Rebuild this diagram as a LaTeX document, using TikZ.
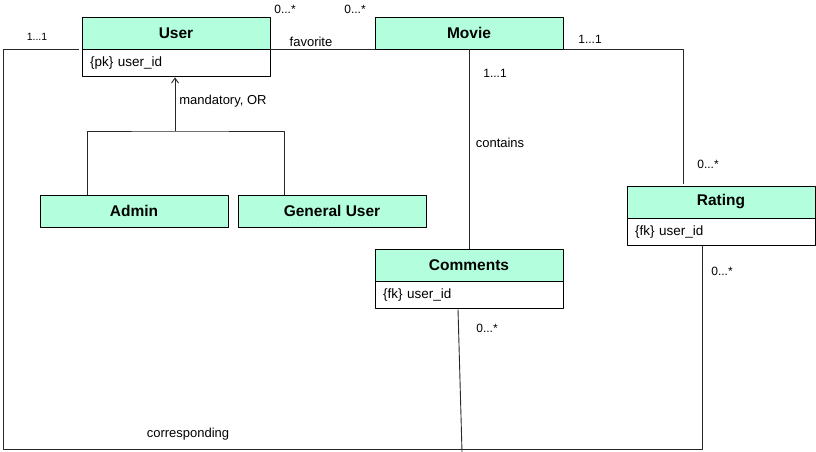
\documentclass[tikz,border=0pt]{standalone}
\usepackage{fontspec}
\setmainfont{Liberation Sans}
\usetikzlibrary{positioning,arrows.meta}
\definecolor{mint}{RGB}{179,255,221}
\definecolor{wire}{RGB}{40,40,40}
\begin{document}
\begin{tikzpicture}[x=1pt, y=-1pt, line join = round, >={Straight Barb[length=5pt,width=7pt]},
	head/.style={draw, fill=mint, line width=0.9pt, minimum width=188pt, minimum height=32pt, inner sep=0pt, font=\bfseries\fontsize{15.5}{17}\selectfont},
	attr/.style={draw, fill=white, line width=0.9pt, text width=172pt, inner xsep=8pt, inner ysep=0pt, minimum height=27pt, align=left, font=\fontsize{13.5}{15}\selectfont},
	lab/.style={inner sep=0pt, font=\fontsize{13}{15}\selectfont},
	mult/.style={inner sep=0pt, font=\fontsize{12}{14}\selectfont},
	link/.style={draw=wire, line width=0.9pt}]
	\useasboundingbox (0,0) rectangle (816,452);
	% classes
	\node[head] (userh) at (176,33) {User};
	\node[attr, below=0pt of userh] (userb) {\{pk\} user\_id};
	\node[head] (movie) at (469,33) {Movie};
	\node[head] (rath) at (721,202) {Rating};
	\node[attr, below=0pt of rath] (ratb) {\{fk\} user\_id};
	\node[head] (comh) at (469,265) {Comments};
	\node[attr, below=0pt of comh] (comb) {\{fk\} user\_id};
	\node[head] (admin) at (134,211) {Admin};
	\node[head] (gen) at (332,211) {General User};
	% connectors
	\coordinate (split) at (175,131);
	\coordinate (rt) at (683,184);
	\coordinate (lc) at (3,449);
	\coordinate (rc) at (702,449);
	\coordinate (cb) at (462,452);
	\draw[link] (userh.south east) -- (movie.south west);
	\draw[link] (movie.south east) -| (rt);
	\draw[link] (movie.south) -- (comh.north);
	\draw[link] ([xshift=48pt]admin.north west) |- (split) -| ([xshift=47pt]gen.north west);
	\draw[link,->] (split) -- (split |- userb.south);
	\draw[link] ([xshift=-3pt]userh.south west) -| (lc) -- (rc) -- ([xshift=-19pt]ratb.south);
	\draw[link] ([xshift=-11pt]comb.south) -- (cb);
	% labels
	\node[mult, font=\fontsize{10.5}{12}\selectfont] (m1) at (37,37) {1...1};
	\node[mult] (m2) at (285,9) {0...*};
	\node[mult] (m3) at (355,9) {0...*};
	\node[lab] (fav) at (311,42) {favorite};
	\node[mult] (m4) at (590,39) {1...1};
	\node[mult] (m5) at (495,73) {1...1};
	\node[lab] (cont) at (500,143) {contains};
	\node[mult] (m6) at (708,164) {0...*};
	\node[mult] (m7) at (722,271) {0...*};
	\node[mult] (m8) at (487,328) {0...*};
	\node[lab] (mand) at (223,101) {mandatory, OR};
	\node[lab] (corr) at (188,434) {corresponding};
\end{tikzpicture}
\end{document}
